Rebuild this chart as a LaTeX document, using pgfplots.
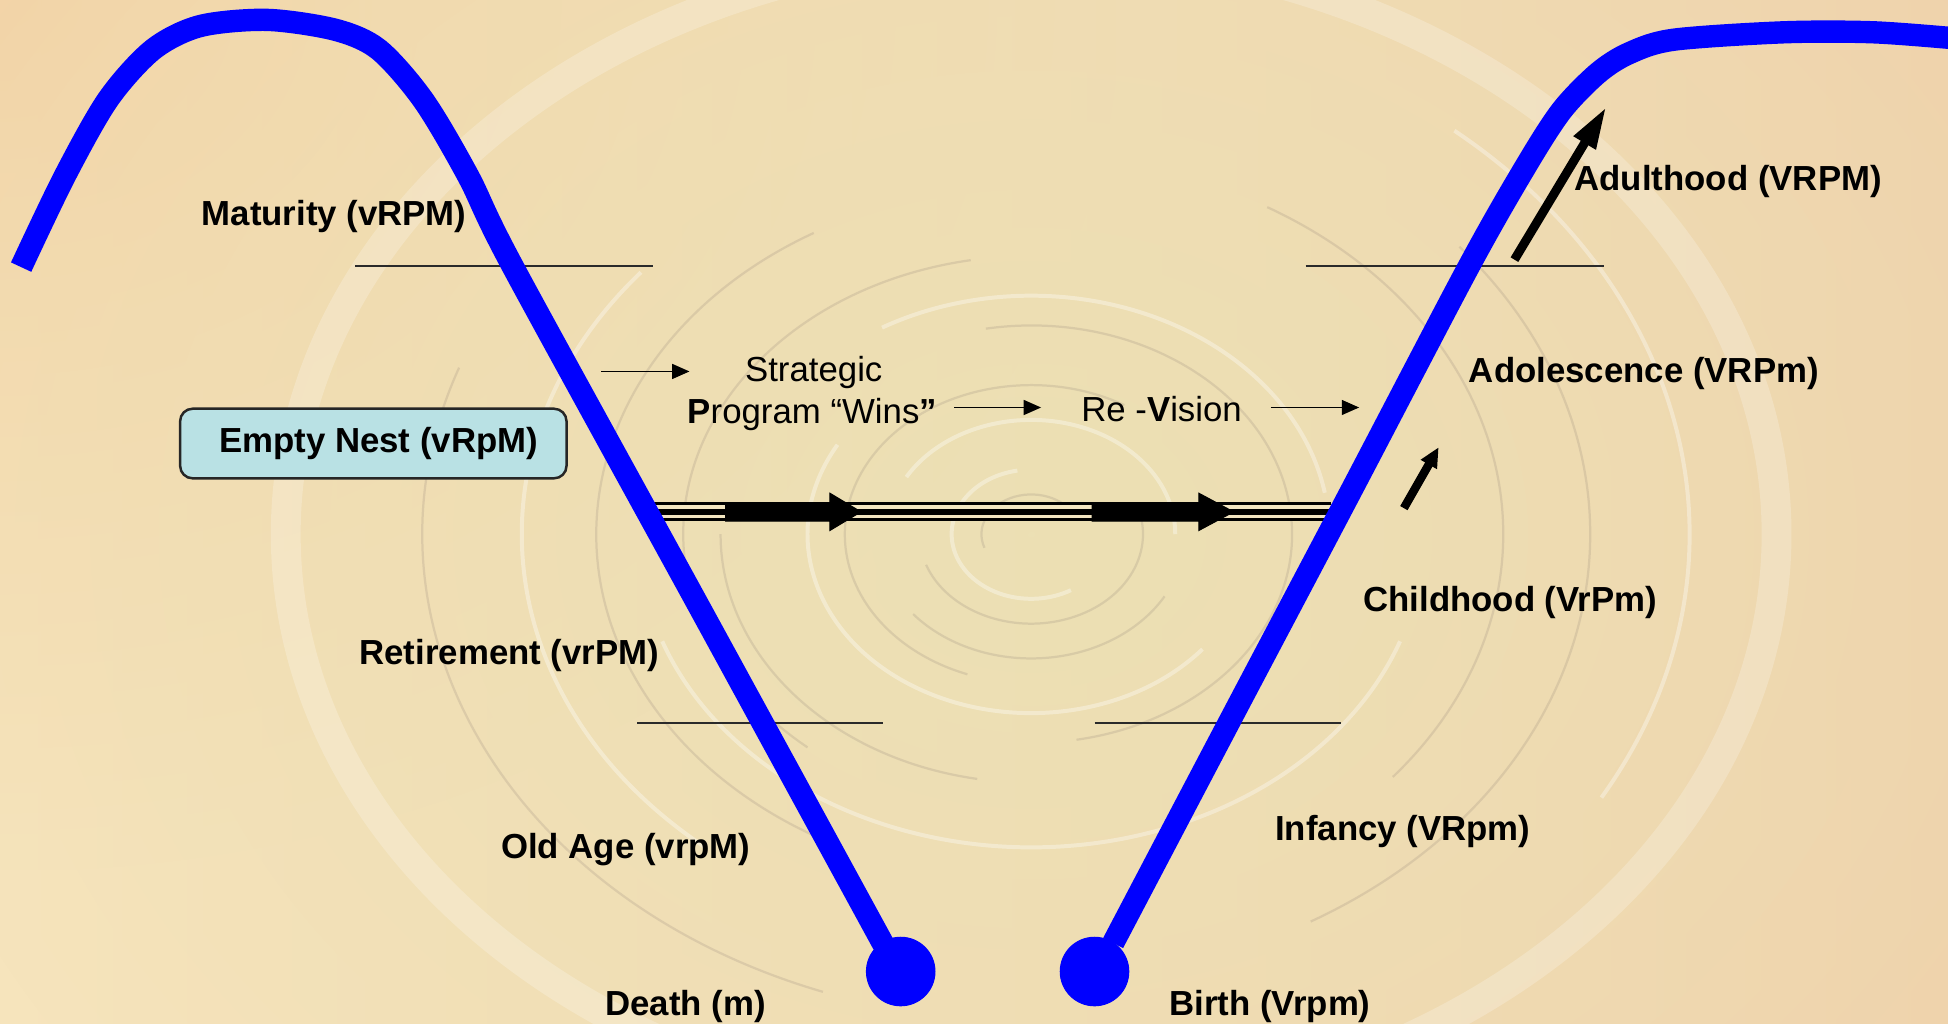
\documentclass[border=0pt]{standalone}
\usepackage{pgfplots}
\pgfplotsset{compat=1.18}
\usetikzlibrary{arrows.meta,fadings}
\usepackage{fontspec}
\setmainfont{Liberation Sans}
\tikzfading[name=myfade, inner color=transparent!0, outer color=transparent!100]
\tikzset{
  lbl/.style={font=\fontsize{14}{16}\selectfont\bfseries, inner sep=0pt, text=black, anchor=west},
  reg/.style={font=\fontsize{14}{16}\selectfont, inner sep=0pt, text=black, anchor=west},
  da/.style={draw=dkarc, opacity=0.2, line width=0.9pt},
  wa/.style={draw=white, opacity=0.35, line width=1.6pt}}
\definecolor{bgL}{HTML}{FBE6C0}
\definecolor{bgR}{HTML}{F1CCA8}
\definecolor{peachTL}{HTML}{F6D0A3}
\definecolor{khaki}{HTML}{ECE0B4}
\definecolor{dkarc}{HTML}{8C7C74}
\definecolor{gapc}{HTML}{F3E6C2}
\definecolor{boxc}{HTML}{B9E1E4}
\definecolor{vblue}{HTML}{0000FF}
\definecolor{hline}{HTML}{2A2A2A}
\begin{document}
\begin{tikzpicture}
\begin{axis}[scale only axis, width=784pt, height=412pt,
  xmin=0, xmax=1568, ymin=0, ymax=824, y dir=reverse,
  hide axis, clip=true]
% background
\fill[left color=bgL, right color=bgR] (axis cs:0,0) rectangle (axis cs:1568,824);
\fill[peachTL, path fading=myfade] (axis cs:-900,-700) rectangle (axis cs:900,700);
\fill[khaki, path fading=myfade] (axis cs:-570,-680) rectangle (axis cs:2230,1540);
\draw[white, opacity=0.22, line width=12pt] (axis cs:830,430) ellipse [x radius=300pt, y radius=235pt];
\draw[da] (axis cs:830,430) ++(20:20pt and 16pt) arc[start angle=20, end angle=200, x radius=20pt, y radius=16pt];
\draw[wa] (axis cs:830,430) ++(100:32pt and 26pt) arc[start angle=100, end angle=300, x radius=32pt, y radius=26pt];
\draw[da] (axis cs:830,430) ++(200:45pt and 36pt) arc[start angle=200, end angle=380, x radius=45pt, y radius=36pt];
\draw[wa] (axis cs:830,430) ++(0:58pt and 46pt) arc[start angle=0, end angle=150, x radius=58pt, y radius=46pt];
\draw[da] (axis cs:830,430) ++(220:62pt and 50pt) arc[start angle=220, end angle=330, x radius=62pt, y radius=50pt];
\draw[da] (axis cs:830,430) ++(60:75pt and 60pt) arc[start angle=60, end angle=250, x radius=75pt, y radius=60pt];
\draw[wa] (axis cs:830,430) ++(150:90pt and 72pt) arc[start angle=150, end angle=320, x radius=90pt, y radius=72pt];
\draw[da] (axis cs:830,430) ++(280:105pt and 84pt) arc[start angle=280, end angle=460, x radius=105pt, y radius=84pt];
\draw[wa] (axis cs:830,430) ++(10:120pt and 96pt) arc[start angle=10, end angle=120, x radius=120pt, y radius=96pt];
\draw[da] (axis cs:830,430) ++(180:125pt and 100pt) arc[start angle=180, end angle=260, x radius=125pt, y radius=100pt];
\draw[da] (axis cs:830,430) ++(100:140pt and 112pt) arc[start angle=100, end angle=230, x radius=140pt, y radius=112pt];
\draw[wa] (axis cs:830,430) ++(200:158pt and 126pt) arc[start angle=200, end angle=340, x radius=158pt, y radius=126pt];
\draw[da] (axis cs:830,430) ++(120:175pt and 140pt) arc[start angle=120, end angle=240, x radius=175pt, y radius=140pt];
\draw[da] (axis cs:830,430) ++(-40:190pt and 152pt) arc[start angle=-40, end angle=60, x radius=190pt, y radius=152pt];
\draw[wa] (axis cs:830,430) ++(140:205pt and 164pt) arc[start angle=140, end angle=230, x radius=205pt, y radius=164pt];
\draw[da] (axis cs:830,430) ++(-60:225pt and 180pt) arc[start angle=-60, end angle=40, x radius=225pt, y radius=180pt];
\draw[da] (axis cs:830,430) ++(160:245pt and 196pt) arc[start angle=160, end angle=250, x radius=245pt, y radius=196pt];
\draw[wa] (axis cs:830,430) ++(-30:265pt and 212pt) arc[start angle=-30, end angle=50, x radius=265pt, y radius=212pt];
% triple line
\addplot[black, line width=7.75pt] coordinates {(514,412) (1071,412)};
\addplot[gapc, line width=1.5pt] coordinates {(514,408.25) (1071,408.25)};
\addplot[gapc, line width=1.5pt] coordinates {(514,415.75) (1071,415.75)};
\addplot[black, fill=black] coordinates {(584,404.5) (668,404.5) (668,397) (693,412) (668,427) (668,419.5) (584,419.5)} -- cycle;
\addplot[black, fill=black] coordinates {(879,404.5) (965,404.5) (965,397) (993,412) (965,427) (965,419.5) (879,419.5)} -- cycle;
% thin horizontal lines
\addplot[hline, line width=0.7pt] coordinates {(286,214) (526,214)};
\addplot[hline, line width=0.7pt] coordinates {(1051,214) (1291,214)};
\addplot[hline, line width=0.7pt] coordinates {(513,582) (711,582)};
\addplot[hline, line width=0.7pt] coordinates {(881,582) (1079,582)};
% blue curves
\addplot[vblue, line width=9pt, smooth, line cap=butt] coordinates {(17,215) (52,142) (87,80) (123,40) (161,21) (215,16) (270,24) (305,40) (341,81) (377,142) (413,215) (562,487) (711,760)};
\addplot[vblue, line width=9pt, smooth, line cap=butt] coordinates {(896,759) (989,582) (1085,400) (1182,215) (1228,134) (1257,89) (1286,59) (1311,43) (1347,32) (1436,26) (1508,26) (1575,31)};
\addplot[only marks, mark=*, mark size=13.8pt, mark options={fill=vblue, draw=vblue}] coordinates {(725,782) (881,782)};
% thin arrows
\addplot[black, line width=0.7pt, -{Triangle[length=7pt,width=6pt]}] coordinates {(484,299) (555,299)};
\addplot[black, line width=0.7pt, -{Triangle[length=7pt,width=6pt]}] coordinates {(768,328) (838,328)};
\addplot[black, line width=0.7pt, -{Triangle[length=7pt,width=6pt]}] coordinates {(1023,328) (1094,328)};
% thick arrows
\addplot[black, line width=3.6pt, -{Triangle[length=17pt,width=9.5pt]}] coordinates {(1219,209) (1293,86)};
\addplot[black, line width=3.4pt, -{Triangle[length=8pt,width=7pt]}] coordinates {(1130,409) (1158,360)};
% box
\draw[line width=1pt, draw=black!85, fill=boxc, rounded corners=5pt] (axis cs:145,329) rectangle (axis cs:456,385);
% labels
\node[lbl] at (axis cs:162,174) {Maturity (vRPM)};
\node[lbl] at (axis cs:176,357) {Empty Nest (vRpM)};
\node[reg, anchor=center] at (axis cs:655,300) {Strategic};
\node[reg] at (axis cs:553,334) {\textbf{P}rogram “Wins\textbf{”}};
\node[reg] at (axis cs:870,329) {Re -\textbf{V}ision};
\node[lbl] at (axis cs:1267,146) {Adulthood (VRPM)};
\node[lbl] at (axis cs:1182,301) {Adolescence (VRPm)};
\node[lbl] at (axis cs:1097,485) {Childhood (VrPm)};
\node[lbl] at (axis cs:289,528) {Retirement (vrPM)};
\node[lbl] at (axis cs:403,684) {Old Age (vrpM)};
\node[lbl] at (axis cs:1026,669) {Infancy (VRpm)};
\node[lbl] at (axis cs:487,810) {Death (m)};
\node[lbl] at (axis cs:941,810) {Birth (Vrpm)};
\end{axis}
\pgfresetboundingbox
\useasboundingbox (current axis.south west) rectangle (current axis.north east);
\end{tikzpicture}
\end{document}
